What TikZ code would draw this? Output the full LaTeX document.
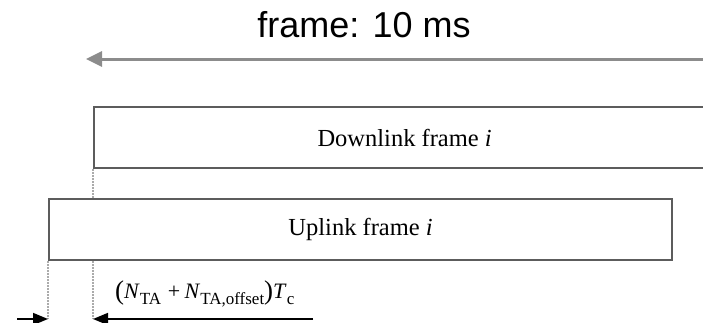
\documentclass[tikz,border=0pt]{standalone}
\usepackage{fontspec}
\setmainfont{Liberation Serif}
\newfontfamily\arialf{Liberation Sans}
\usetikzlibrary{arrows.meta}
\definecolor{boxgray}{HTML}{5C5C5C}
\definecolor{arrgray}{HTML}{8C8C8C}
\definecolor{dotgray}{HTML}{ABABAB}
\tikzset{
  framebox/.style={draw=boxgray, line width=2.2pt, minimum height=61pt, inner sep=0pt,
    font=\fontsize{24.5}{26}\selectfont},
  dotline/.style={draw=dotgray, line width=2pt, dash pattern=on 1.5pt off 1.5pt},
  dimarrow/.style={draw=black, line width=1.6pt, -{Triangle[length=15pt,width=12pt]}},
  toparrow/.style={draw=arrgray, line width=3pt, -{Triangle[length=16pt,width=15pt]}},
}
\newcommand{\subtx}[1]{\raisebox{-0.3em}{\fontsize{17}{17}\selectfont #1}}
\newcommand{\bigpar}[1]{{\fontsize{27}{27}\selectfont\raisebox{-0.05em}{#1}}}
\begin{document}
\begin{tikzpicture}[x=1pt,y=-1pt]
\useasboundingbox (0,0) rectangle (703,322);
% title
\node[anchor=base, inner sep=0pt, font=\arialf\fontsize{36}{38}\selectfont] (title) at (364,37) {frame: 10 ms};
% top arrow
\coordinate (tr) at (720,59);
\coordinate (tl) at (86,59);
\draw[toparrow] (tr) -- (tl);
% frames
\node[framebox, minimum width=621pt, anchor=north west] (dl) at (93,106) {Downlink frame \textit{i}};
\node[framebox, minimum width=623pt, anchor=north west] (ul) at (48,198) {Uplink frame \textit{i}};
% dotted guides
\coordinate (bl) at (48,319);
\coordinate (br) at (93,319);
\draw[dotline] (dl.south west) -- (dl.south west |- ul.north);
\draw[dotline] (ul.south west) -- (bl);
\draw[dotline] (dl.south west |- ul.south) -- (br);
% bottom arrows
\coordinate (bls) at (17,319);
\coordinate (bre) at (313,319);
\draw[dimarrow] (bls) -- (bl);
\draw[dimarrow] (bre) -- (br);
% formula
\node[anchor=base west, inner sep=0pt, font=\fontsize{22}{24}\selectfont] (lab) at (115,298)
  {\bigpar{(}\textit{N}\subtx{TA}\hspace{0.3em}+\hspace{0.2em}\textit{N}\subtx{TA,offset}\bigpar{)}\textit{T}\subtx{c}};
\end{tikzpicture}
\end{document}
